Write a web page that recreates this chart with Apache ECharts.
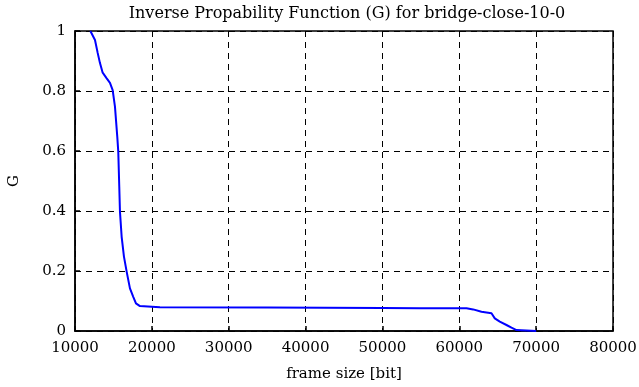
<!DOCTYPE html>
<html><head><meta charset="utf-8">
<script src="https://cdn.jsdelivr.net/npm/echarts@6/dist/echarts.min.js"></script>
<style>html,body{margin:0;padding:0;background:#fff}#c{width:639px;height:387px}</style>
</head><body><div id="c"></div>
<script>
var frameSize = [12000,12100,12600,12950,13250,13600,14100,14550,14900,15200,15500,15630,15760,15850,16070,16370,16720,17150,17580,17930,18450,21050,35000,50000,54860,60940,61800,62890,64190,64620,65270,66140,66790,67440,70000];
var gValue = [1,0.995,0.97,0.927,0.893,0.861,0.843,0.827,0.803,0.748,0.648,0.598,0.481,0.398,0.314,0.248,0.198,0.142,0.114,0.092,0.083,0.079,0.078,0.077,0.076,0.076,0.072,0.064,0.059,0.042,0.031,0.02,0.011,0.003,0];
var titleText = 'Inverse Propability Function (G) for bridge-close-10-0';
var xName = 'frame size [bit]';
var yName = 'G';

var pts = frameSize.map(function(x,i){return [x,gValue[i]];});
var font = 'DejaVu Serif';
var chart = echarts.init(document.getElementById('c'));
chart.setOption({
  animation:false,
  title:{text:titleText,left:342,textAlign:'center',top:1,textStyle:{fontFamily:font,fontSize:16,fontWeight:'normal',color:'#000'}},
  grid:{left:75,right:26,top:31,bottom:56,show:true,borderColor:'#000',borderWidth:1.5,backgroundColor:'transparent',outerBoundsMode:'none',containLabel:false},
  xAxis:{type:'value',min:10000,max:80000,interval:10000,
    name:xName,nameLocation:'middle',nameGap:36,nameTextStyle:{fontFamily:font,fontSize:15,color:'#000'},
    axisLine:{show:true,lineStyle:{color:'#000',width:1.5}},
    axisTick:{show:true,inside:true,length:5,lineStyle:{color:'#000',width:1.5}},
    axisLabel:{fontFamily:font,fontSize:15,color:'#000',margin:10,formatter:function(v){return String(v);}},
    splitLine:{show:true,lineStyle:{color:'#000',type:[6,5],width:1}}},
  yAxis:{type:'value',min:0,max:1,interval:0.2,
    name:yName,nameLocation:'middle',nameGap:53,nameRotate:90,nameTextStyle:{fontFamily:font,fontSize:15,color:'#000'},
    axisLine:{show:true,lineStyle:{color:'#000',width:1.5}},
    axisTick:{show:true,inside:true,length:5,lineStyle:{color:'#000',width:1.5}},
    axisLabel:{fontFamily:font,fontSize:15,color:'#000',margin:9,formatter:function(v){return String(v);}},
    splitLine:{show:true,lineStyle:{color:'#000',type:[6,5],width:1}}},
  series:[{type:'line',data:pts,showSymbol:false,lineStyle:{color:'#0000ff',width:2},clip:false}]
});
</script></body></html>
